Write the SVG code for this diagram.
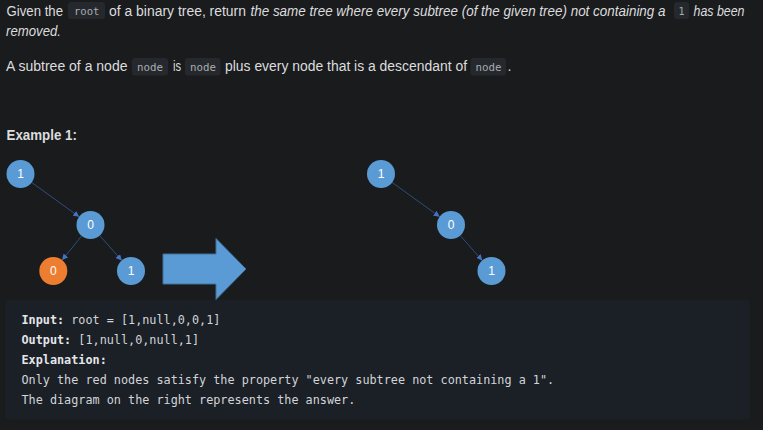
<svg xmlns="http://www.w3.org/2000/svg" width="763" height="430" viewBox="0 0 763 430">
<style>
  .t{font-family:"Liberation Sans",Arial,sans-serif;font-size:14px;fill:#dcdddf}
  .it{font-style:italic}
  .cb{fill:#25282c}
  .ct{font-family:"DejaVu Sans Mono","Liberation Mono",monospace;font-size:11px;fill:#a9acb2}
  .h{font-family:"Liberation Sans",Arial,sans-serif;font-size:14px;font-weight:bold;fill:#dcdddf}
  .m{font-family:"DejaVu Sans Mono","Liberation Mono",monospace;font-size:11.8px;fill:#d2d4d8}
  .mb{font-weight:bold;fill:#e4e6ea}
  .blue{fill:#5b9bd5}
  .orange{fill:#ed7d31}
  .nt{font-family:"Liberation Sans",Arial,sans-serif;font-size:12px;fill:#ffffff;text-anchor:middle}
  .edge{stroke:#2f4d7a;stroke-width:1;fill:none}
</style>
<defs>
  <marker id="ah" markerUnits="userSpaceOnUse" markerWidth="7" markerHeight="6" refX="6" refY="3" orient="auto">
    <path d="M0,0 L6,3 L0,6 Z" fill="#4472c4"/>
  </marker>
</defs>
<rect width="763" height="430" fill="#1a1b1d"/>

<g id="text">
  <text class="t" x="6.5" y="15.5" textLength="56.5" lengthAdjust="spacingAndGlyphs">Given the</text>
  <rect class="cb" x="68" y="2" width="37" height="17" rx="3"/>
  <text class="ct" x="74" y="14.5" textLength="25.5" lengthAdjust="spacingAndGlyphs">root</text>
  <text class="t" x="109" y="15.5" textLength="137" lengthAdjust="spacingAndGlyphs">of a binary tree, return</text>
  <text class="t it" x="250.5" y="15.5" font-size="13.3" textLength="415" lengthAdjust="spacingAndGlyphs">the same tree where every subtree (of the given tree) not containing a</text>
  <rect class="cb" x="674" y="2" width="15" height="17" rx="3"/>
  <text class="ct" x="678.5" y="14.5" textLength="6" lengthAdjust="spacingAndGlyphs">1</text>
  <text class="t it" x="693.5" y="15.5" textLength="51" lengthAdjust="spacingAndGlyphs">has been</text>
  <text class="t it" x="6" y="35.5" textLength="55" lengthAdjust="spacingAndGlyphs">removed.</text>

  <text class="t" x="6" y="71" textLength="121.5" lengthAdjust="spacingAndGlyphs">A subtree of a node</text>
  <rect class="cb" x="132" y="58" width="36" height="17.5" rx="3"/>
  <text class="ct" x="137" y="70.5" textLength="26" lengthAdjust="spacingAndGlyphs">node</text>
  <text class="t" x="173" y="71" textLength="8" lengthAdjust="spacingAndGlyphs">is</text>
  <rect class="cb" x="185" y="58" width="35.5" height="17.5" rx="3"/>
  <text class="ct" x="190" y="70.5" textLength="26" lengthAdjust="spacingAndGlyphs">node</text>
  <text class="t" x="225" y="71" textLength="242" lengthAdjust="spacingAndGlyphs">plus every node that is a descendant of</text>
  <rect class="cb" x="470.5" y="58" width="35.5" height="17.5" rx="3"/>
  <text class="ct" x="475.5" y="70.5" textLength="26" lengthAdjust="spacingAndGlyphs">node</text>
  <text class="t" x="507.5" y="71">.</text>

  <text class="h" x="6.5" y="140" textLength="70.5" lengthAdjust="spacingAndGlyphs">Example 1:</text>
</g>

<g id="connectors">
  <line class="edge" x1="31.3" y1="182.2" x2="79.2" y2="216.8" marker-end="url(#ah)"/>
  <line class="edge" x1="81.7" y1="235.9" x2="62.1" y2="260.1" marker-end="url(#ah)"/>
  <line class="edge" x1="99.7" y1="235.5" x2="121.8" y2="260.5" marker-end="url(#ah)"/>
  <line class="edge" x1="391.8" y1="182.2" x2="439.7" y2="216.8" marker-end="url(#ah)"/>
  <line class="edge" x1="460.2" y1="235.5" x2="482.3" y2="260.5" marker-end="url(#ah)"/>
</g>

<g id="L1"><circle class="blue" cx="20.5" cy="174" r="14"/><text class="nt" x="20.5" y="178.3">1</text></g>
<g id="L0"><circle class="blue" cx="90.5" cy="225" r="14"/><text class="nt" x="90.5" y="229.3">0</text></g>
<g id="L0b"><circle class="orange" cx="53.3" cy="271" r="14"/><text class="nt" x="53.3" y="275.3">0</text></g>
<g id="L1b"><circle class="blue" cx="131" cy="271" r="14"/><text class="nt" x="131" y="275.3">1</text></g>

<g id="R1"><circle class="blue" cx="381" cy="174" r="14"/><text class="nt" x="381" y="178.3">1</text></g>
<g id="R0"><circle class="blue" cx="451" cy="225" r="14"/><text class="nt" x="451" y="229.3">0</text></g>
<g id="R1b"><circle class="blue" cx="491.5" cy="271" r="14"/><text class="nt" x="491.5" y="275.3">1</text></g>

<g id="bigArrow">
  <polygon points="163,254 216,254 216,238.5 246,269 216,299.5 216,284 163,284" fill="#5b9bd5" stroke="#41719c" stroke-width="1"/>
</g>

<g id="codeblock">
  <rect x="5" y="300" width="745" height="119.5" rx="4" fill="#1b2027"/>
  <text class="m" x="21.5" y="324"><tspan class="mb">Input:</tspan> root = [1,null,0,0,1]</text>
  <text class="m" x="21.5" y="344"><tspan class="mb">Output:</tspan> [1,null,0,null,1]</text>
  <text class="m mb" x="21.5" y="364">Explanation:</text>
  <text class="m" x="21.5" y="384">Only the red nodes satisfy the property "every subtree not containing a 1".</text>
  <text class="m" x="21.5" y="404">The diagram on the right represents the answer.</text>
</g>
</svg>
